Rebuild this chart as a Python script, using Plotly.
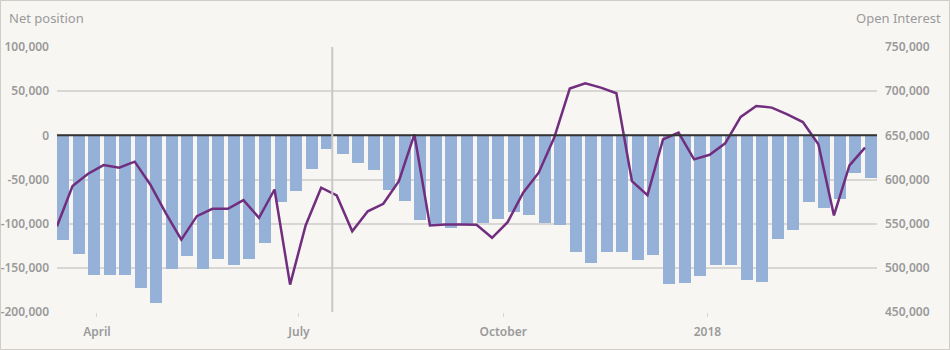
import pandas as pd
import plotly.graph_objects as go

# ---- data -------------------------------------------------------------
week_dates = pd.date_range("2017-03-14", periods=53, freq="7D")

net_position = [
    -118300, -134000, -158000, -158000, -158000, -173000, -190000, -151000,
    -136500, -151000, -140000, -146700, -140000, -121700, -75000, -62500,
    -37800, -15000, -20800, -31000, -39300, -62000, -74500, -95300,
    -101500, -104700, -100000, -99000, -94500, -86600, -90000, -99400,
    -101300, -132000, -144800, -132000, -132000, -141000, -136000, -168300,
    -167000, -159000, -146700, -146700, -163800, -166000, -117200, -106600,
    -75000, -82800, -72600, -43100, -48000,
]

open_interest = [
    547000, 592500, 606600, 616300, 613400, 620200, 594400, 562000,
    532000, 558500, 566800, 566800, 576600, 556600, 588700, 481000,
    548000, 590700, 582000, 541400, 564000, 572500, 598200, 651000,
    548000, 549000, 549000, 548700, 534000, 551700, 585000, 607700,
    647400, 703000, 709000, 704000, 697600, 598200, 582300, 645500,
    653000, 622800, 628000, 641000, 670800, 683200, 681400, 673800,
    665000, 639800, 559300, 616000, 636000,
]

x_tick_dates = ["2017-04-01", "2017-07-01", "2017-10-01", "2018-01-01"]
x_tick_labels = ["April", "July", "October", "2018"]

left_tick_vals = [-200000, -150000, -100000, -50000, 0, 50000, 100000]
left_tick_labels = ["-200,000", "-150,000", "-100,000", "-50,000", "0", "50,000", "100,000"]

right_tick_vals = [450000, 500000, 550000, 600000, 650000, 700000, 750000]
right_tick_labels = ["450,000", "500,000", "550,000", "600,000", "650,000", "700,000", "750,000"]

marker_date = "2017-07-16"

# ---- styling ----------------------------------------------------------
BG = "#f7f6f3"
GRID = "#d9d7d3"
TXT = "#9a9a9a"
BAR = "#95b1d8"
LINE = "#712e7e"
FONT = "Noto Sans"

DAY_MS = 86400000
bar_width_ms = 5.4 * DAY_MS

x_start = pd.Timestamp("2017-03-14")
x_end = x_start + pd.Timedelta(days=369.4)

W, H = 950, 350
ML, MR, MT, MB = 57, 73, 47, 38
PW, PH = W - ML - MR, H - MT - MB

tick_font = dict(family=FONT, color=TXT, size=12, weight=600)

fig = go.Figure()
fig.add_trace(go.Bar(
    x=week_dates, y=net_position, yaxis="y",
    marker=dict(color=BAR, line=dict(width=0)),
    width=bar_width_ms, offset=0, name="Net position",
))
fig.add_trace(go.Scatter(
    x=week_dates, y=open_interest, yaxis="y2", mode="lines",
    line=dict(color=LINE, width=2.5), name="Open Interest",
))

fig.update_layout(
    width=W, height=H,
    margin=dict(l=ML, r=MR, t=MT, b=MB, autoexpand=False),
    paper_bgcolor=BG, plot_bgcolor=BG,
    showlegend=False,
    font=dict(family=FONT, color=TXT, size=12),
    xaxis=dict(
        type="date", range=[x_start, x_end], automargin=False,
        tickvals=x_tick_dates, ticktext=x_tick_labels,
        showgrid=False, zeroline=False, showline=False,
        ticks="outside", ticklen=4, tickcolor=GRID, tickwidth=1,
        ticklabelstandoff=5,
        tickfont=tick_font,
    ),
    yaxis=dict(
        range=[-200000, 100000], automargin=False,
        tickvals=left_tick_vals, ticktext=left_tick_labels,
        showgrid=True, gridcolor=GRID, gridwidth=1.5,
        zeroline=False, showline=False, ticks="",
        ticklabelstandoff=7,
        tickfont=tick_font,
    ),
    yaxis2=dict(
        range=[450000, 750000], overlaying="y", side="right", automargin=False,
        tickvals=right_tick_vals, ticktext=right_tick_labels,
        showgrid=False, zeroline=False, showline=False, ticks="",
        ticklabelstandoff=7,
        tickfont=tick_font,
    ),
    bargap=0,
)

# reference lines
fig.add_shape(type="line", xref="paper", yref="y", x0=0, x1=1, y0=0, y1=0,
              line=dict(color="#333333", width=2), layer="above")
fig.add_shape(type="line", xref="x", yref="paper", x0=marker_date, x1=marker_date,
              y0=0, y1=1, line=dict(color="#c8c8c8", width=2), layer="above")
# outer border
fig.add_shape(type="rect", xref="paper", yref="paper",
              x0=-ML / PW + 0.5 / PW, x1=1 + (MR - 0.5) / PW,
              y0=-(MB - 0.5) / PH, y1=1 + (MT - 0.5) / PH,
              line=dict(color="#d0cdc9", width=1), fillcolor="rgba(0,0,0,0)", layer="below")

# axis titles
fig.add_annotation(text="Net position", xref="paper", yref="paper",
                   x=-ML / PW + 7 / PW, y=1 + (MT - 18) / PH,
                   xanchor="left", yanchor="middle", showarrow=False,
                   font=dict(family=FONT, color=TXT, size=13))
fig.add_annotation(text="Open Interest", xref="paper", yref="paper",
                   x=1 + (MR - 7) / PW, y=1 + (MT - 18) / PH,
                   xanchor="right", yanchor="middle", showarrow=False,
                   font=dict(family=FONT, color=TXT, size=13))

fig.write_html("out.html")
